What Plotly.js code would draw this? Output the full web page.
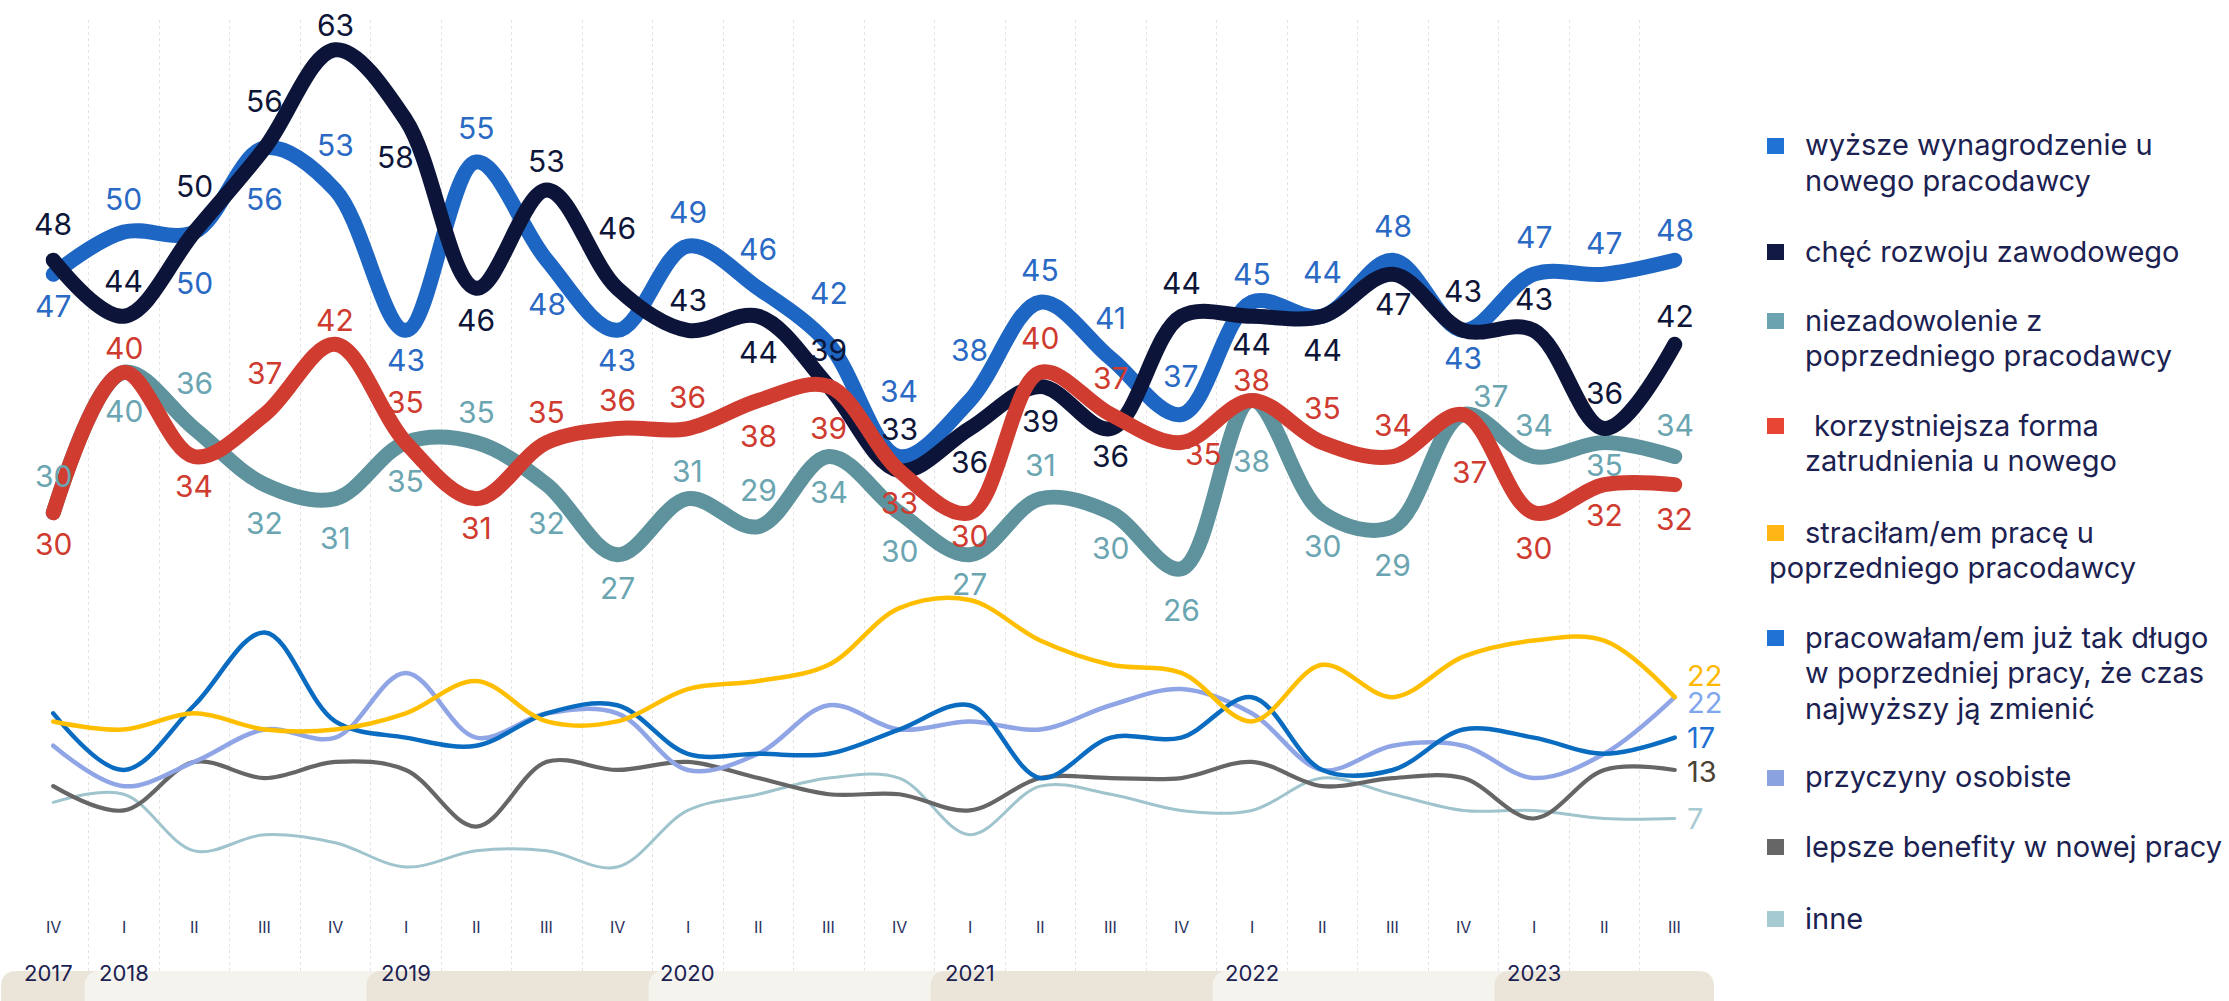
<!DOCTYPE html>
<html>
<head>
<meta charset="utf-8">
<script src="https://cdn.plot.ly/plotly-3.0.1.min.js"></script>
<style>
html,body{margin:0;padding:0;background:#ffffff;}
.js-line{stroke-linecap:round;stroke-linejoin:round;}
</style>
</head>
<body>
<div id="chart" style="width:2229px;height:1001px;"></div>
<script>
// ---------- DATA ----------
const quarters = ['IV','I','II','III','IV','I','II','III','IV','I','II','III','IV','I','II','III','IV','I','II','III','IV','I','II','III'];
const years = ['2017','2018','2019','2020','2021','2022','2023'];

const wyzszeWynagrodzenie = [47,50,50,56,53,43,55,48,43,49,46,42,34,38,45,41,37,45,44,48,43,47,47,48];
const checRozwoju        = [48,44,50,56,63,58,46,53,46,43,44,39,33,36,39,36,44,44,44,47,43,43,36,42];
const niezadowolenie     = [30,40,36,32,31,35,35,32,27,31,29,34,30,27,31,30,26,38,30,29,37,34,35,34];
const korzystniejszaForma= [30,40,34,37,42,35,31,35,36,36,38,39,33,30,40,37,35,38,35,34,37,30,32,32];

const stracilamPrace     = [19,18,20,18,18,20,24,19,19,23,24,26,33,34,29,26,25,19,26,22,27,29,29,22];
const pracowalamDlugo    = [20,13,21,30,19,17,16,20,21,15,15,15,18,21,12,17,17,22,13,13,18,17,15,17];
const przyczynyOsobiste  = [16,11,14,18,17,25,17,20,20,13,15,21,18,19,18,21,23,20,13,16,16,12,15,22];
const lepszeBenefity     = [11,8,14,12,14,13,6,14,13,14,12,10,10,8,12,12,12,14,11,12,12,7,13,13];
const inne               = [9,10,3,5,4,1,3,3,1,8,10,12,12,5,11,10,8,8,12,10,8,8,7,7];

const legendNames = [
  ['wyższe wynagrodzenie u','nowego pracodawcy'],
  ['chęć rozwoju zawodowego'],
  ['niezadowolenie z','poprzedniego pracodawcy'],
  ['korzystniejsza forma','zatrudnienia u nowego'],
  ['straciłam/em pracę u','poprzedniego pracodawcy'],
  ['pracowałam/em już tak długo','w poprzedniej pracy, że czas','najwyższy ją zmienić'],
  ['przyczyny osobiste'],
  ['lepsze benefity w nowej pracy'],
  ['inne']
];

// ---------- LABEL PLACEMENT (screen px offsets, + = down) ----------
const dyBlue = [32,-33,51,51,-45,30,-34,44,30,-34,-39,-51,-66,-50,-32,-40,-38,-28,-44,-34,28,-37,-31,-30];
const dyNavy = [-36,-35,-46,-47,-25,37,32,-29,-60,-30,36,-36,-42,33,35,27,-33,28,34,30,-39,-31,-36,-28];
const dyTeal = [-37,39,-46,38,39,38,-31,38,33,-28,-37,35,38,29,-34,35,41,61,33,38,-18,-32,22,-32];
const dyRed  = [31,-24,29,-41,-24,-41,29,-31,-29,-32,36,42,32,23,-34,-36,11,-20,-35,-32,58,35,30,34];
const dxBlue = new Array(24).fill(0);
const dxNavy = new Array(24).fill(0); dxNavy[5] = -10;
const dxTeal = new Array(24).fill(0); dxTeal[20] = 28;
const dxRed  = new Array(24).fill(0); dxRed[16] = 22; dxRed[20] = 7;

// ---------- GEOMETRY ----------
const W = 2229, H = 1001;
const M = {l:18, r:519, t:20, b:30};
const PW = W - M.l - M.r, PH = H - M.t - M.b;
const px2x = px => (px - M.l) / PW;
const px2y = py => (H - M.b - py) / PH;
const FONT = 'Inter, "Noto Sans", sans-serif';
const NAVY = '#1b2150';

const xs = quarters.map((q, i) => i);

const thick = [
  {y: niezadowolenie,      color:'#5e939d', label:'#6aa5b1', dy: dyTeal, dx: dxTeal},
  {y: wyzszeWynagrodzenie, color:'#1e66c3', label:'#2a6ac4', dy: dyBlue, dx: dxBlue},
  {y: checRozwoju,         color:'#0c1539', label:'#0d1538', dy: dyNavy, dx: dxNavy},
  {y: korzystniejszaForma, color:'#d03c30', label:'#cf3b2f', dy: dyRed,  dx: dxRed}
];
const thin = [
  {y: inne,              color:'#9fc4cd', width:3,   label:'#a9ccd3', shift:0},
  {y: lepszeBenefity,    color:'#666666', width:4.2, label:'#4a4232', shift:-2},
  {y: przyczynyOsobiste, color:'#8fa5e5', width:4.5, label:'#7fa7ec', shift:-5},
  {y: pracowalamDlugo,   color:'#0a6cc0', width:4.5, label:'#1f6fd3', shift:0},
  {y: stracilamPrace,    color:'#ffbf00', width:4.5, label:'#ffb800', shift:22}
];

const traces = [];
thin.forEach(s => traces.push({
  x: xs, y: s.y, type:'scatter', mode:'lines', yaxis:'y2',
  line:{color:s.color, width:s.width, shape:'spline', smoothing:1},
  hoverinfo:'skip', showlegend:false
}));
thick.forEach(s => traces.push({
  x: xs, y: s.y, type:'scatter', mode:'lines',
  line:{color:s.color, width:15, shape:'spline', smoothing:1},
  hoverinfo:'skip', showlegend:false
}));

const annotations = [];
thick.forEach(s => s.y.forEach((v, i) => annotations.push({
  x: i, y: v, xref:'x', yref:'y', text: String(v), showarrow:false,
  font:{family:FONT, size:30, color:s.label},
  xshift: s.dx[i], yshift: -s.dy[i]
})));
thin.forEach(s => {
  const last = s.y.length - 1;
  annotations.push({
    x: last, y: s.y[last], xref:'x', yref:'y2', text: String(s.y[last]), showarrow:false,
    xanchor:'left', xshift: 10, yshift: s.shift,
    font:{family:FONT, size:29, color:s.label}
  });
});
quarters.forEach((q, i) => annotations.push({
  x: i, y: px2y(939), xref:'x', yref:'paper', text:q, showarrow:false,
  font:{family:FONT, size:16, color:'#2a3060'}
}));

const yearStarts = [0];
quarters.forEach((q, i) => { if (q === 'I') yearStarts.push(i); });
const shapes = [];
const dataToPx = x => M.l + (x + 0.5) / 24 * PW;
function pillPath(x0, x1, rl, rr) {
  const top = 971, bot = 1025;
  const X = p => px2x(p).toFixed(5), Y = p => px2y(p).toFixed(5);
  let d = `M${X(x0 + rl)},${Y(top)} L${X(x1 - rr)},${Y(top)}`;
  if (rr > 0) d += ` Q${X(x1)},${Y(top)} ${X(x1)},${Y(top + rr)} L${X(x1)},${Y(bot - rr)} Q${X(x1)},${Y(bot)} ${X(x1 - rr)},${Y(bot)}`;
  else d += ` L${X(x1)},${Y(top)} L${X(x1)},${Y(bot)}`;
  d += ` L${X(x0 + rl)},${Y(bot)} Q${X(x0)},${Y(bot)} ${X(x0)},${Y(bot - rl)} L${X(x0)},${Y(top + rl)} Q${X(x0)},${Y(top)} ${X(x0 + rl)},${Y(top)} Z`;
  return d;
}
yearStarts.forEach((si, k) => {
  const x0 = k === 0 ? 1 : dataToPx(si - 0.5) - 4;
  const isLast = k === yearStarts.length - 1;
  const x1 = isLast ? dataToPx(23.5) + 4 : dataToPx(yearStarts[k + 1] - 0.5) + 30;
  shapes.push({
    type:'path', xref:'paper', yref:'paper', path: pillPath(x0, x1, 16, isLast ? 16 : 0),
    fillcolor: k % 2 === 0 ? '#ebe4d8' : '#f5f3ee', line:{width:0}, layer:'above'
  });
  annotations.push({
    x: si, y: px2y(988), xref:'x', yref:'paper', text: years[k], showarrow:false,
    xshift: k === 0 ? -5 : 0,
    font:{family:FONT, size:22, color:NAVY}
  });
});

const legendColors = ['#2072d5','#111a45','#6ba4b0','#e84535','#ffb614','#2072d5','#8aa2e0','#666666','#a6cad2'];
const legendY = [148,254,323,428,535,640,780,849,921];
const LINE = 35.5;
legendNames.forEach((lines, k) => {
  const y0 = legendY[k];
  shapes.push({
    type:'rect', xref:'paper', yref:'paper',
    x0: px2x(1767), x1: px2x(1784), y0: px2y(y0 - 10), y1: px2y(y0 + 6),
    fillcolor: legendColors[k], line:{width:0}
  });
  lines.forEach((t, j) => {
    let xpx = 1803;
    if (k === 3 && j === 0) xpx = 1812;
    if (k === 4 && j === 1) xpx = 1767;
    annotations.push({
      x: px2x(xpx), y: px2y(y0 + j * LINE - 3), xref:'paper', yref:'paper',
      xanchor:'left', yanchor:'middle', text:t, showarrow:false,
      font:{family:FONT, size:29, color:NAVY}
    });
  });
});

const gridVals = [];
for (let g = -0.5; g <= 23.5; g += 1) gridVals.push(g);

const layout = {
  width: W, height: H,
  margin: M,
  paper_bgcolor:'#ffffff', plot_bgcolor:'#ffffff',
  showlegend:false,
  xaxis:{
    range:[-0.5, 23.5], tickmode:'array', tickvals:gridVals, showticklabels:false, ticks:'',
    showgrid:true, gridcolor:'#e3e3e3', gridwidth:1, griddash:'dot',
    zeroline:false, showline:false, fixedrange:true
  },
  yaxis:{ range:[-2.665, 65.117], visible:false, fixedrange:true },
  yaxis2:{ range:[-11.85, 105.70], overlaying:'y', visible:false, fixedrange:true },
  annotations: annotations,
  shapes: shapes
};

Plotly.newPlot('chart', traces, layout, {staticPlot:true, displayModeBar:false});
</script>
</body>
</html>
